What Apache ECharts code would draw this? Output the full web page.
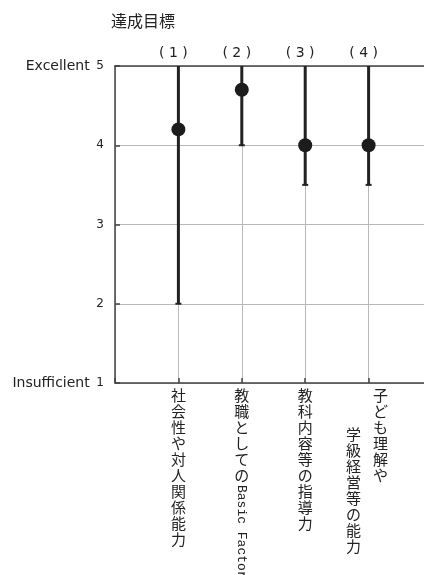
<!DOCTYPE html>
<html>
<head>
<meta charset="utf-8">
<script src="https://cdn.jsdelivr.net/npm/echarts@6/dist/echarts.min.js"></script>
<style>
  html, body { margin: 0; padding: 0; background: #fff; overflow: hidden; }
  #chart { width: 424px; height: 575px; }
</style>
</head>
<body>
<div id="chart"></div>
<script>
// Achievement targets: mean rating with the spread of responses (low .. high)
const titleText = '達成目標';
const positions = [1, 2, 3, 4];
const topLabels = ['(1)', '(2)', '(3)', '(4)'];
const meanValues = [4.2, 4.7, 4.0, 4.0];
const lowValues = [2.0, 4.0, 3.5, 3.5];
const highValues = [5.0, 5.0, 5.0, 5.0];
const bottomLabels = [
  ['社会性や対人関係能力'],
  ['教職としてのBasic Factor'],
  ['教科内容等の指導力'],
  ['子ども理解や', '学級経営等の能力']
];
const yTickNames = { 5: 'Excellent', 1: 'Insufficient' };

const JP = '"Noto Sans CJK JP", sans-serif';
const LATIN = '"DejaVu Sans", sans-serif';
const INK = '#222';

const chart = echarts.init(document.getElementById('chart'), null, { renderer: 'canvas', width: 424, height: 575 });

// Vertical label: CJK characters stacked one per line, Latin runs turned sideways
function verticalText(str, x, y0) {
  const els = [];
  const pitch = 16;
  let y = y0;
  let i = 0;
  while (i < str.length) {
    if (/[\x20-\x7e]/.test(str[i])) {
      let run = '';
      while (i < str.length && /[\x20-\x7e]/.test(str[i])) { run += str[i]; i++; }
      els.push({
        type: 'text', x: x, y: y + 1, rotation: -Math.PI / 2,
        style: { text: run, fill: INK, font: '13px "Liberation Mono", monospace',
                 align: 'left', verticalAlign: 'middle' }
      });
      y += run.length * 8;
    } else {
      els.push({
        type: 'text', x: x, y: y,
        style: { text: str[i], fill: INK, font: '15px ' + JP, align: 'center', verticalAlign: 'top' }
      });
      y += pitch;
      i++;
    }
  }
  return els;
}

// the plot runs on past the right edge of the page
const xMax = 5;

const option = {
  animation: false,
  backgroundColor: '#fff',
  title: {
    text: titleText, left: 106, top: 8,
    textStyle: { fontFamily: JP, fontSize: 16, fontWeight: 'normal', color: INK }
  },
  grid: { left: 115, top: 66, width: 317, height: 317, containLabel: false, outerBoundsMode: 'none' },
  xAxis: [
    {
      type: 'value', min: 0, max: xMax, interval: 1, position: 'bottom',
      axisLine: { show: true, lineStyle: { color: '#444', width: 1.5 } },
      axisTick: { show: true, inside: true, length: 5, lineStyle: { color: '#444', width: 1.5 } },
      axisLabel: { show: false },
      splitLine: { show: true, lineStyle: { color: '#b8b8b8', width: 1 } }
    },
    {
      type: 'value', min: 0, max: xMax, interval: 1, position: 'top',
      axisLine: { show: true, onZero: false, lineStyle: { color: '#444', width: 1.5 } },
      axisTick: { show: false },
      splitLine: { show: false },
      axisLabel: {
        show: true, margin: 6, color: INK, fontFamily: LATIN, fontSize: 14,
        padding: [0, 10, 0, 0],
        formatter: v => {
          const k = positions.indexOf(v);
          return k >= 0 ? topLabels[k].split('').join(' ') : '';
        }
      }
    }
  ],
  yAxis: {
    type: 'value', min: 1, max: 5, interval: 1,
    axisLine: { show: true, lineStyle: { color: '#444', width: 1.5 } },
    axisTick: { show: true, inside: true, length: 5, lineStyle: { color: '#444', width: 1.5 } },
    splitLine: { show: true, lineStyle: { color: '#b8b8b8', width: 1 } },
    axisLabel: {
      margin: 11, color: INK,
      formatter: v => (yTickNames[v] ? '{t|' + yTickNames[v] + '}  {n|' + v + '}' : '{n|' + v + '}'),
      rich: {
        t: { fontFamily: LATIN, fontSize: 14, color: INK },
        n: { fontFamily: LATIN, fontSize: 12, color: INK }
      }
    }
  },
  series: [
    {
      // range bars with a small cap at the low end
      type: 'custom',
      xAxisIndex: 0,
      data: positions.map((p, i) => [p, lowValues[i], highValues[i]]),
      renderItem: (params, api) => {
        const lo = api.coord([api.value(0), api.value(1)]);
        const hi = api.coord([api.value(0), api.value(2)]);
        return {
          type: 'group',
          children: [
            { type: 'line', shape: { x1: lo[0], y1: lo[1], x2: hi[0], y2: hi[1] },
              style: { stroke: INK, lineWidth: 3 } },
            { type: 'line', shape: { x1: lo[0] - 3, y1: lo[1], x2: lo[0] + 3, y2: lo[1] },
              style: { stroke: INK, lineWidth: 2 } }
          ]
        };
      },
      z: 3
    },
    {
      type: 'scatter',
      xAxisIndex: 0,
      data: positions.map((p, i) => [p, meanValues[i]]),
      symbol: 'circle', symbolSize: 14,
      itemStyle: { color: '#1c1c1c', opacity: 1 },
      z: 4
    },
    {
      // category names written vertically under the plot
      type: 'custom',
      xAxisIndex: 0,
      clip: false,
      silent: true,
      data: positions.map(p => [p]),
      renderItem: (params, api) => {
        const idx = params.dataIndex;
        const base = api.coord([api.value(0), 1]);
        const lines = bottomLabels[idx];
        let children = [];
        if (lines.length === 1) {
          children = verticalText(lines[0], base[0], base[1] + 5);
        } else {
          children = children.concat(verticalText(lines[0], base[0] + 12, base[1] + 5));
          children = children.concat(verticalText(lines[1], base[0] - 15, base[1] + 44));
        }
        return { type: 'group', children: children };
      },
      z: 5
    }
  ]
};

chart.setOption(option);
</script>
</body>
</html>
